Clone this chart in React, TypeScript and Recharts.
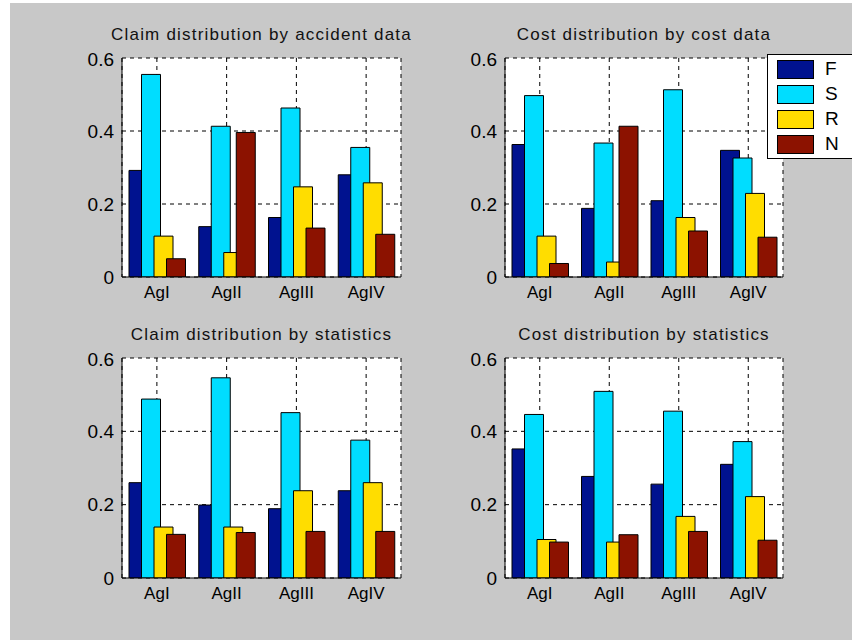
import React from "react";
import { BarChart, Bar, XAxis, YAxis, CartesianGrid, Legend } from "recharts";

const categories = ["AgI", "AgII", "AgIII", "AgIV"];
const seriesNames = ["F", "S", "R", "N"];
const seriesColors = ["#00128F", "#00DDFF", "#FFDD00", "#8C1200"];
const yTicks = [0, 0.2, 0.4, 0.6];

const claimAccidentF = [0.292, 0.138, 0.163, 0.28];
const claimAccidentS = [0.555, 0.413, 0.463, 0.355];
const claimAccidentR = [0.112, 0.067, 0.247, 0.258];
const claimAccidentN = [0.05, 0.396, 0.134, 0.117];

const costDataF = [0.363, 0.188, 0.209, 0.347];
const costDataS = [0.497, 0.367, 0.513, 0.326];
const costDataR = [0.112, 0.041, 0.163, 0.229];
const costDataN = [0.037, 0.413, 0.126, 0.109];

const claimStatsF = [0.26, 0.199, 0.189, 0.238];
const claimStatsS = [0.488, 0.546, 0.451, 0.376];
const claimStatsR = [0.139, 0.139, 0.238, 0.26];
const claimStatsN = [0.119, 0.124, 0.127, 0.127];

const costStatsF = [0.352, 0.277, 0.256, 0.31];
const costStatsS = [0.446, 0.509, 0.455, 0.372];
const costStatsR = [0.105, 0.098, 0.168, 0.222];
const costStatsN = [0.098, 0.118, 0.127, 0.103];

const FONT = '"Liberation Sans", Arial, Helvetica, sans-serif';

function buildData(f: number[], s: number[], r: number[], n: number[]) {
  return categories.map((c, i) => ({ cat: c, F: f[i], S: s[i], R: r[i], N: n[i] }));
}

const LegendBox = (props: any) => {
  const payload = [...(props.payload || [])].sort(
    (a: any, b: any) => seriesNames.indexOf(a.value) - seriesNames.indexOf(b.value)
  );
  return (
    <div
      style={{
        width: 100,
        height: 105,
        background: "#fff",
        border: "1px solid #000",
        boxSizing: "border-box",
        position: "relative",
        fontFamily: FONT,
      }}
    >
      {payload.map((p: any, i: number) => (
        <div key={p.value} style={{ position: "absolute", left: 9, top: 5 + i * 25, height: 19, width: 80 }}>
          <div
            style={{
              position: "absolute",
              left: 0,
              top: 0,
              width: 37,
              height: 19,
              background: p.color,
              border: "1px solid #000",
              boxSizing: "border-box",
            }}
          />
          <div style={{ position: "absolute", left: 48, top: -2, fontSize: 19, lineHeight: "22px", color: "#000" }}>
            {p.value}
          </div>
        </div>
      ))}
    </div>
  );
};

type PanelProps = {
  title: string;
  data: any[];
  plotLeft: number;
  plotTop: number;
  plotW: number;
  plotH: number;
  legend?: boolean;
};

const YAXW = 60;
const MT = 10;
const MR = 10;
const XAXH = 40;

function Panel({ title, data, plotLeft, plotTop, plotW, plotH, legend }: PanelProps) {
  const chartLeft = plotLeft - YAXW;
  const chartTop = plotTop - MT;
  return (
    <>
      <div
        style={{
          position: "absolute",
          left: plotLeft - 40,
          width: plotW + 80,
          top: plotTop - 33,
          textAlign: "center",
          fontFamily: FONT,
          fontSize: 17,
          letterSpacing: 1.2,
          color: "#111",
          whiteSpace: "nowrap",
        }}
      >
        {title}
      </div>
      <div style={{ position: "absolute", left: chartLeft, top: chartTop }}>
        <BarChart
          width={YAXW + plotW + MR}
          height={MT + plotH + XAXH}
          data={data}
          margin={{ top: MT, right: MR, bottom: 0, left: 0 }}
          barSize={19}
          barGap={-6.5}
          style={{ overflow: "visible" }}
        >
          <CartesianGrid stroke="#000" strokeDasharray="4 4" fill="#fff" />
          <XAxis
            dataKey="cat"
            height={XAXH}
            axisLine={{ stroke: "#000" }}
            tickLine={false}
            tickMargin={3}
            tick={{ fill: "#000", fontSize: 17, fontFamily: FONT }}
            interval={0}
          />
          <XAxis
            xAxisId="top"
            dataKey="cat"
            orientation="top"
            height={0}
            tick={false}
            tickLine={false}
            axisLine={{ stroke: "#000" }}
          />
          <YAxis
            width={YAXW}
            domain={[0, 0.6]}
            ticks={yTicks}
            tickFormatter={(v: number) => (v === 0 ? "0" : v.toFixed(1))}
            axisLine={{ stroke: "#000" }}
            tickLine={false}
            tick={{ fill: "#000", fontSize: 19, fontFamily: FONT }}
            allowDataOverflow
          />
          <YAxis
            yAxisId="right"
            orientation="right"
            width={0}
            domain={[0, 0.6]}
            tick={false}
            tickLine={false}
            axisLine={{ stroke: "#000" }}
          />
          {seriesNames.map((s, i) => (
            <Bar
              key={s}
              dataKey={s}
              name={s}
              fill={seriesColors[i]}
              stroke="#000"
              strokeWidth={1}
              isAnimationActive={false}
            />
          ))}
          {legend && (
            <Legend
              layout="vertical"
              align="center"
              verticalAlign="middle"
              content={<LegendBox />}
              wrapperStyle={{ left: 767 - chartLeft, top: 54 - chartTop, width: 100, height: 105 }}
            />
          )}
        </BarChart>
      </div>
    </>
  );
}

export default function App() {
  return (
    <div
      style={{
        position: "absolute",
        left: 0,
        top: 0,
        width: 852,
        height: 640,
        overflow: "hidden",
        background: "#fff",
      }}
    >
      <div style={{ position: "absolute", left: 10, top: 3, width: 842, height: 637, background: "#C8C8C8" }} />
      <Panel
        title="Claim distribution by accident data"
        data={buildData(claimAccidentF, claimAccidentS, claimAccidentR, claimAccidentN)}
        plotLeft={122}
        plotTop={58}
        plotW={279}
        plotH={219}
      />
      <Panel
        title="Cost distribution by cost data"
        data={buildData(costDataF, costDataS, costDataR, costDataN)}
        plotLeft={505}
        plotTop={58}
        plotW={278}
        plotH={219}
        legend
      />
      <Panel
        title="Claim distribution by statistics"
        data={buildData(claimStatsF, claimStatsS, claimStatsR, claimStatsN)}
        plotLeft={122}
        plotTop={358}
        plotW={279}
        plotH={220}
      />
      <Panel
        title="Cost distribution by statistics"
        data={buildData(costStatsF, costStatsS, costStatsR, costStatsN)}
        plotLeft={505}
        plotTop={358}
        plotW={278}
        plotH={220}
      />
    </div>
  );
}
